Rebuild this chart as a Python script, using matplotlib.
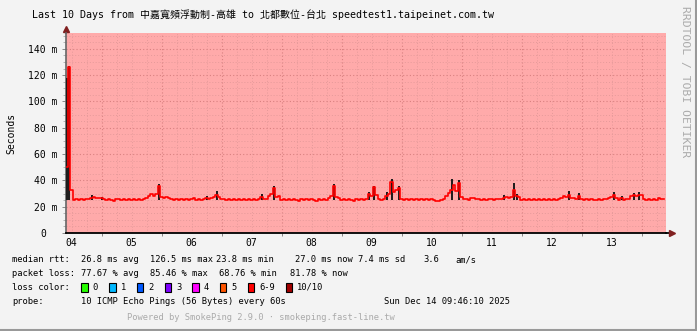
import numpy as np
import matplotlib
matplotlib.use('Agg')
from matplotlib import pyplot as plt
from matplotlib.lines import Line2D
from matplotlib.patches import Rectangle
from matplotlib.transforms import ScaledTranslation

# hourly median rtt (ms), hours counted from Dec 04 00:00
start_hour = 10
median_day04 = [50.0, 126.5, 33.0, 25.2, 25.6, 25.0, 25.8, 25.3, 25.9, 25.5, 26.8, 27.0, 26.9, 26.7]
median_day05 = [26.8, 26.2, 25.4, 25.9, 25.1, 24.3, 25.6, 25.8, 25.3, 25.9, 25.2, 25.7,
                25.0, 25.6, 25.4, 26.0, 25.3, 25.9, 26.5, 28.3, 29.5, 28.4, 29.8, 35.5]
median_day06 = [27.5, 26.8, 27.0, 26.4, 25.6, 25.2, 25.9, 25.4, 26.0, 25.3, 25.7, 24.9,
                25.5, 26.6, 25.4, 25.8, 25.1, 25.6, 26.7, 25.9, 26.4, 27.0, 29.0, 27.2]
median_day07 = [25.5, 25.9, 25.0, 25.7, 25.3, 26.0, 25.4, 25.8, 25.2, 25.6, 25.1, 25.9,
                25.4, 25.7, 25.3, 25.8, 27.5, 25.6, 26.0, 28.0, 30.0, 34.0, 27.2, 27.8]
median_day08 = [25.3, 25.8, 25.0, 25.6, 25.2, 25.9, 25.4, 24.6, 25.5, 25.1, 25.8, 25.3,
                25.9, 25.0, 24.5, 25.6, 25.2, 25.8, 25.4, 26.3, 28.2, 36.0, 27.4, 26.8]
median_day09 = [25.4, 25.9, 25.2, 25.7, 25.0, 24.6, 25.5, 25.1, 25.8, 25.3, 25.6, 30.0,
                28.5, 35.0, 29.0, 25.6, 25.2, 25.7, 28.0, 30.0, 38.5, 31.4, 33.0, 34.0]
median_day10 = [25.6, 25.2, 25.9, 25.4, 25.7, 25.0, 25.8, 25.3, 25.6, 24.9, 25.5, 25.1,
                25.7, 25.2, 24.6, 24.2, 25.3, 25.8, 28.0, 30.5, 33.0, 36.5, 32.0, 38.0]
median_day11 = [27.0, 25.5, 25.9, 25.3, 26.4, 26.6, 26.2, 25.6, 25.2, 25.8, 25.4, 26.1,
                25.7, 25.3, 25.9, 25.5, 25.8, 26.8, 27.0, 26.5, 27.3, 32.5, 28.5, 27.0]
median_day12 = [25.4, 25.9, 25.2, 25.7, 25.3, 25.9, 25.0, 25.6, 25.2, 25.8, 25.4, 25.9,
                25.1, 25.6, 25.3, 26.2, 26.8, 28.0, 27.0, 29.0, 26.8, 26.5, 26.2, 28.0]
median_day13 = [26.0, 25.3, 25.7, 25.1, 25.6, 24.8, 25.4, 25.9, 25.3, 25.8, 25.5, 26.3,
                27.0, 29.0, 26.5, 25.4, 26.6, 25.3, 25.8, 25.5, 28.5, 29.0, 28.3, 29.2]
median_day14 = [29.0, 25.6, 25.2, 25.8, 25.4, 25.9, 25.1, 26.4, 25.7, 26.0]

# smoke spikes (hour, max ping in ms)
smoke_hours = [10, 11, 20, 24, 47, 66, 70, 88, 93, 117, 131, 133, 138, 140, 143,
               164, 167, 185, 189, 190, 211, 215, 229, 232, 237, 239]
smoke_top = [118, 127, 29, 27.5, 37, 28, 32, 30, 35.7, 37, 31, 35.7, 31, 41, 35.7,
             41, 40, 29, 38, 30, 32, 30.6, 31, 28, 30.5, 31.5]
smoke_base = 25.0

day_labels = ['04', '05', '06', '07', '08', '09', '10', '11', '12', '13']
y_ticks = [0, 20, 40, 60, 80, 100, 120, 140]
y_labels = ['0', '20 m', '40 m', '60 m', '80 m', '100 m', '120 m', '140 m']

loss_names = ['0', '1', '2', '3', '4', '5', '6-9', '10/10']
loss_colors = ['#26ff00', '#00b8ff', '#0059ff', '#7e00ff', '#ff00ff', '#ff5500', '#ff0000', '#a10000']

W, H = 697, 331
mono = 'DejaVu Sans Mono'

median = (median_day04 + median_day05 + median_day06 + median_day07 + median_day08 +
          median_day09 + median_day10 + median_day11 + median_day12 + median_day13 + median_day14)
hours = np.arange(start_hour, start_hour + len(median))


def px(x, y):
    return x / W, 1 - y / H


fig = plt.figure(figsize=(W / 100, H / 100), dpi=100, facecolor='#f3f3f3')
ax = fig.add_axes([66.1 / W, (H - 233) / H, 600 / W, 200 / H])
ax.set_facecolor('#ffaaaa')

x0 = 9.77
ax.set_xlim(x0, x0 + 240)
ax.set_ylim(0, 152)

# grid
midnights = np.arange(24, 250, 24)
six_hours = np.arange(12, 250, 6)
ax.set_xticks(midnights, labels=[''] * len(midnights))
minor_labels = [day_labels[int(h // 24)] if h % 24 == 12 else '' for h in six_hours]
ax.set_xticks(six_hours, labels=minor_labels, minor=True)
ax.set_yticks(y_ticks, labels=y_labels)
ax.set_yticks(np.arange(5, 152, 5), minor=True)

ax.grid(which='major', color='#d98080', linestyle=(0, (1, 2)), linewidth=0.8)
ax.grid(which='minor', color='#e69a9a', linestyle=(0, (1, 2)), linewidth=0.7)
ax.tick_params(which='both', labelsize=7, colors='#000000', labelfontfamily=mono)
ax.tick_params(axis='y', which='major', length=3, width=0.7, pad=3, color='#888888')
ax.tick_params(axis='y', which='minor', length=2, width=0.6, color='#aaaaaa')
ax.tick_params(axis='x', which='major', length=2, width=0.7, color='#888888')
ax.tick_params(axis='x', which='minor', length=0, pad=3.5)

# move the zero label like rrdtool pads it
zero_lab = ax.get_yticklabels()[0]
zero_lab.set_transform(zero_lab.get_transform() + ScaledTranslation(-0.12, 0, fig.dpi_scale_trans))

for s in ['top', 'right']:
    ax.spines[s].set_visible(False)
ax.spines['left'].set_color('#666666')
ax.spines['bottom'].set_color('#000000')
ax.spines['left'].set_linewidth(1.2)
ax.spines['bottom'].set_linewidth(1.3)

# axis arrows
ax.plot([1, 1.01], [0, 0], transform=ax.transAxes, color='#000000', lw=1.3, clip_on=False)
ax.plot([1.01], [0], transform=ax.transAxes, marker='>', color='#802020', ms=4, clip_on=False)
ax.plot([0, 0], [1, 1.02], transform=ax.transAxes, color='#666666', lw=1.2, clip_on=False)
ax.plot([0], [1.02], transform=ax.transAxes, marker='^', color='#802020', ms=4, clip_on=False)

# smoke and median
ax.vlines(smoke_hours, smoke_base, smoke_top, color='#1a1a1a', lw=1.4, zorder=3)
ax.plot(hours, median, drawstyle='steps-mid', color='#ff0000', lw=1.2, zorder=4)

ax.set_ylabel('Seconds', fontfamily=mono, fontsize=7)
ax.yaxis.set_label_coords(-(66.1 - 16) / 600, 0.5)

# title
fig.text(*px(32, 15), 'Last 10 Days from 中嘉寬頻浮動制-高雄 to 北都數位-台北 speedtest1.taipeinet.com.tw',
         family=[mono, 'Noto Sans CJK TC'], fontsize=7.2, va='center', ha='left')
fig.text(*px(685, 82), 'RRDTOOL / TOBI OETIKER', family=mono, fontsize=8.2, color='#aaaaaa',
         rotation=-90, va='center', ha='center')

# legend
fs = 6.3
line1 = [(12, 'median rtt:'), (80.7, '26.8 ms avg'), (150.3, '126.5 ms max'), (216, '23.8 ms min'),
         (295, '27.0 ms now'), (357.7, '7.4 ms sd'), (423.3, '3.6'), (455, 'am/s')]
line2 = [(12, 'packet loss:'), (80.7, '77.67 % avg'), (150.3, '85.46 % max'), (219, '68.76 % min'),
         (290, '81.78 % now')]
for xx, s in line1:
    fig.text(*px(xx, 260), s, family=mono, fontsize=fs, va='center')
for xx, s in line2:
    fig.text(*px(xx, 273.5), s, family=mono, fontsize=fs, va='center')

fig.text(*px(12, 287.5), 'loss color:', family=mono, fontsize=fs, va='center')
box_x = [81, 109, 136.7, 164.7, 192.3, 220, 247.7, 285.7]
for bx, name, col in zip(box_x, loss_names, loss_colors):
    fig.add_artist(Rectangle(px(bx, 291.5), 6.5 / W, 8.5 / H, facecolor=col,
                             edgecolor='#000000', lw=0.8, transform=fig.transFigure))
    fig.text(*px(bx + 11.5, 287.5), name, family=mono, fontsize=fs, va='center')

fig.text(*px(12, 301), 'probe:', family=mono, fontsize=fs, va='center')
fig.text(*px(80.7, 301), '10 ICMP Echo Pings (56 Bytes) every 60s', family=mono, fontsize=fs, va='center')
fig.text(*px(510, 301), 'Sun Dec 14 09:46:10 2025', family=mono, fontsize=fs, va='center', ha='right')
fig.text(*px(261, 317.5), 'Powered by SmokePing 2.9.0 · smokeping.fast-line.tw', family=mono,
         fontsize=fs, va='center', ha='center', color='#aaaaaa')

# frame shading
fig.add_artist(Line2D([0, 1], [0.003, 0.003], color='#999999', lw=1.5, transform=fig.transFigure))
fig.add_artist(Line2D([0.998, 0.998], [0, 1], color='#999999', lw=1.5, transform=fig.transFigure))

fig.savefig('out.png', dpi=100, facecolor=fig.get_facecolor())
